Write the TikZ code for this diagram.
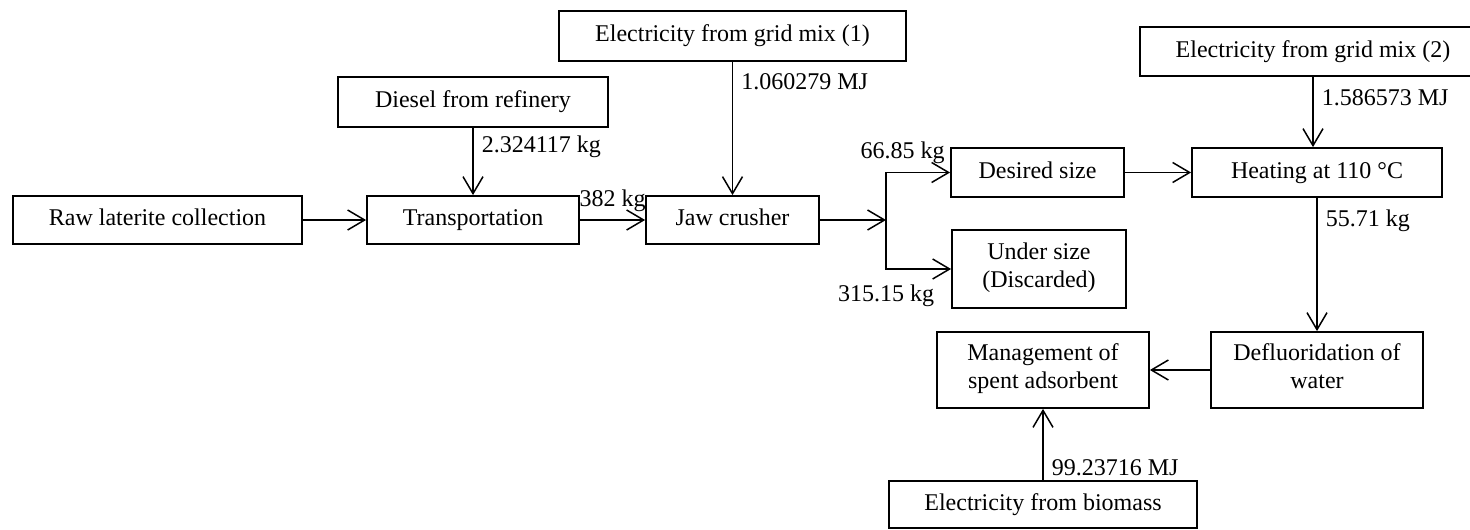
\documentclass[tikz,border=0pt]{standalone}
\usepackage{fontspec}
\setmainfont{Liberation Serif}
\usepackage{tikz}
\usetikzlibrary{arrows.meta,positioning}

\begin{document}
\begin{tikzpicture}[
    x=1pt, y=-1pt,
    every node/.style={font=\fontsize{24}{28}\selectfont},
    box/.style={draw, line width=1.8pt, align=center, inner sep=0pt,
        execute at begin node=\strut, execute at end node=\strut},
    lbl/.style={inner sep=8pt},
    flow/.style={-{Straight Barb[length=17pt,width=20pt]}, line width=1.5pt}
]
\useasboundingbox (0,0) rectangle (1470,530);

% process chain
\node[box, minimum width=289pt, minimum height=48pt] (raw) at (157.5,220) {Raw laterite collection};
\node[box, minimum width=212pt, minimum height=48pt] (trans) at (473,220) {Transportation};
\node[box, minimum width=270pt, minimum height=50pt] (diesel) at (473,102) {Diesel from refinery};
\node[box, minimum width=347pt, minimum height=50pt] (gridA) at (732.5,36) {Electricity from grid mix (1)};
\node[box, minimum width=173pt, minimum height=48pt] (jaw) at (732.5,220) {Jaw crusher};
\node[box, minimum width=173pt, minimum height=49pt] (desired) at (1037.5,172.5) {Desired size};
\node[box, minimum width=174pt, minimum height=78pt] (under) at (1039,269) {Under size\\(Discarded)};
\node[box, minimum width=250pt, minimum height=49pt] (heat) at (1317,172.5) {Heating at 110 °C};
\node[box, minimum width=346pt, minimum height=49pt] (gridB) at (1313,51.5) {Electricity from grid mix (2)};
\node[box, minimum width=212pt, minimum height=76pt] (defl) at (1317,370) {Defluoridation of\\water};
\node[box, minimum width=212pt, minimum height=76pt] (mgmt) at (1043,370) {Management of\\spent adsorbent};
\node[box, minimum width=308pt, minimum height=47pt] (biomass) at (1043,504.5) {Electricity from biomass};
\coordinate (split) at (886,220);

% flows
\draw[flow] (raw) -- (trans);
\draw[flow] (diesel) -- node[lbl, right, pos=0.28] {2.324117 kg} (trans);
\draw[flow] (trans) -- node[lbl, above] {382 kg} (jaw);
\draw[flow] (gridA) -- node[lbl, right, pos=0.15] {1.060279 MJ} (jaw);
\draw[flow] (jaw) -- (split);
\draw[flow] (split) |- node[lbl, above, pos=0.63] {66.85 kg} (desired);
\draw[flow] (split) |- node[lbl, below, pos=0.5, yshift=-7pt] {315.15 kg} (under);
\draw[flow] (desired) -- (heat);
\draw[flow] (gridB) -- node[lbl, right, pos=0.29] {1.586573 MJ} (gridB |- heat.north);
\draw[flow] (heat) -- node[lbl, right, pos=0.17] {55.71 kg} (defl);
\draw[flow] (defl) -- (mgmt);
\draw[flow] (biomass) -- node[lbl, right, pos=0.18] {99.23716 MJ} (mgmt);
\end{tikzpicture}
\end{document}
